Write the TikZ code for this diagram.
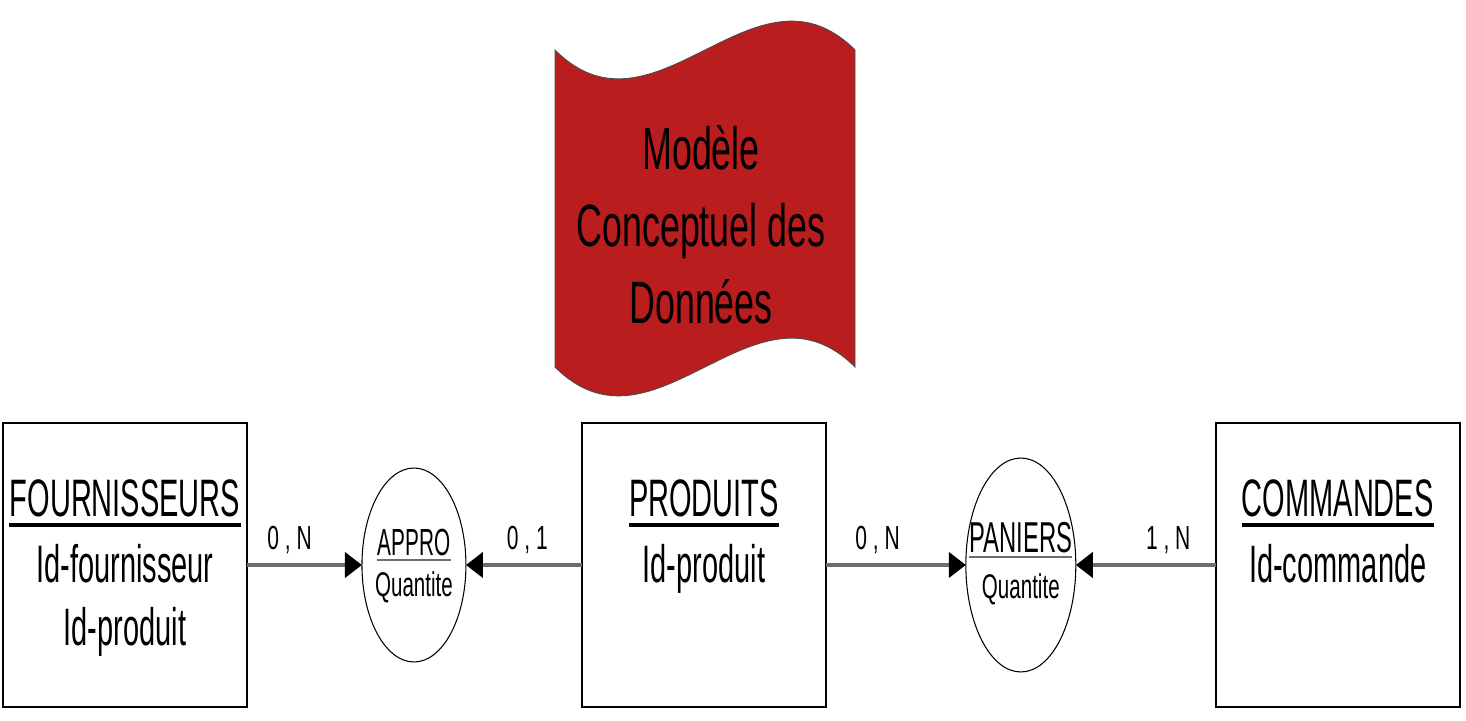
\documentclass[tikz,border=0pt]{standalone}
\usepackage{fontspec}
\setmainfont{Liberation Sans}[FakeStretch=0.55]
\newfontfamily\titlefont{Liberation Sans}[FakeStretch=0.6]
\newfontfamily\cardfont{Liberation Sans}[FakeStretch=0.63]
\usepackage{tikz}
\usetikzlibrary{shapes.geometric, arrows.meta, positioning}
\definecolor{bannerred}{RGB}{185,29,29}
\definecolor{linkgray}{RGB}{110,110,110}

\begin{document}
\begin{tikzpicture}[
  x=0.02cm, y=0.02cm,
  entity/.style={rectangle, draw=black, line width=1pt, minimum width=4.88cm, minimum height=5.68cm, inner sep=0pt, outer sep=0pt},
  relation/.style={ellipse, draw=black, line width=0.6pt, inner sep=0pt, outer sep=0pt},
  entname/.style={inner sep=0pt, anchor=base, font=\fontsize{30}{36}\selectfont},
  attr/.style={inner sep=0pt, anchor=base, font=\fontsize{30}{36}\selectfont},
  relname/.style={inner sep=0pt, anchor=base},
  relattr/.style={inner sep=0pt, anchor=base, font=\titlefont\fontsize{19.5}{24}\selectfont},
  titletext/.style={align=center, inner sep=0pt, font=\titlefont\fontsize{34}{43.8}\selectfont},
  card/.style={inner sep=0pt, anchor=base, yshift=0.32cm, pos=0.37, text=black, font=\cardfont\fontsize{19}{23}\selectfont},
  uline/.style={line width=2pt},
  relline/.style={line width=1.2pt, linkgray},
  link/.style={line width=2.3pt, linkgray, -{Triangle[length=0.34cm, width=0.5cm, color=black]}}
]
\useasboundingbox (0,0) rectangle (1466,720);

% Title banner
\draw[draw=black!70, line width=0.5pt, fill=bannerred]
  (555,670) .. controls (655,570) and (755,770) .. (855,670)
  -- (855,353) .. controls (755,453) and (655,253) .. (555,353) -- cycle;
\node[titletext] (titre) at (701,495) {Modèle\\Conceptuel des\\Données};

% Entities and relations
\node[entity] (fournisseurs) at (125,155) {};
\node[relation, minimum width=2.08cm, minimum height=3.88cm, right=2.3cm of fournisseurs] (appro) {};
\node[entity, right=2.32cm of appro] (produits) {};
\node[relation, minimum width=2.2cm, minimum height=4.28cm, right=2.8cm of produits] (paniers) {};
\node[entity, right=2.8cm of paniers] (commandes) {};

% Entity texts
\node[entname] (fname) at ([yshift=-1.86cm]fournisseurs.north) {FOURNISSEURS};
\node[attr] (fattr1) at ([yshift=-1.34cm]fname.base) {Id-fournisseur};
\node[attr] (fattr2) at ([yshift=-1.26cm]fattr1.base) {Id-produit};
\draw[uline] ([yshift=-0.18cm]fname.base west) -- ([yshift=-0.18cm]fname.base east);

\node[entname] (pname) at ([yshift=-1.86cm]produits.north) {PRODUITS};
\node[attr] (pattr1) at ([yshift=-1.34cm]pname.base) {Id-produit};
\draw[uline] ([yshift=-0.18cm]pname.base west) -- ([yshift=-0.18cm]pname.base east);

\node[entname] (cname) at ([yshift=-1.86cm]commandes.north) {COMMANDES};
\node[attr] (cattr1) at ([yshift=-1.34cm]cname.base) {Id-commande};
\draw[uline] ([yshift=-0.18cm]cname.base west) -- ([yshift=-0.18cm]cname.base east);

% Relation texts
\node[relname, font=\fontsize{21.5}{26}\selectfont] (aname) at ([yshift=0.2cm]appro.center) {APPRO};
\draw[relline] ([yshift=-0.1cm]aname.base west) -- ([yshift=-0.1cm]aname.base east);
\node[relattr] (aattr) at ([yshift=-0.64cm]appro.center) {Quantite};

\node[relname, font=\fontsize{24.6}{30}\selectfont] (pnname) at ([yshift=0.26cm]paniers.center) {PANIERS};
\draw[relline] ([yshift=-0.1cm]pnname.base west) -- ([yshift=-0.1cm]pnname.base east);
\node[relattr] (pnattr) at ([yshift=-0.68cm]paniers.center) {Quantite};

% Links
\draw[link] (fournisseurs.east) -- node[card] {0 , N} (appro.west);
\draw[link] (produits.west) -- node[card, pos=0.47] {0 , 1} (appro.east);
\draw[link] (produits.east) -- node[card] {0 , N} (paniers.west);
\draw[link] (commandes.west) -- node[card, pos=0.34] {1 , N} (paniers.east);
\end{tikzpicture}
\end{document}
